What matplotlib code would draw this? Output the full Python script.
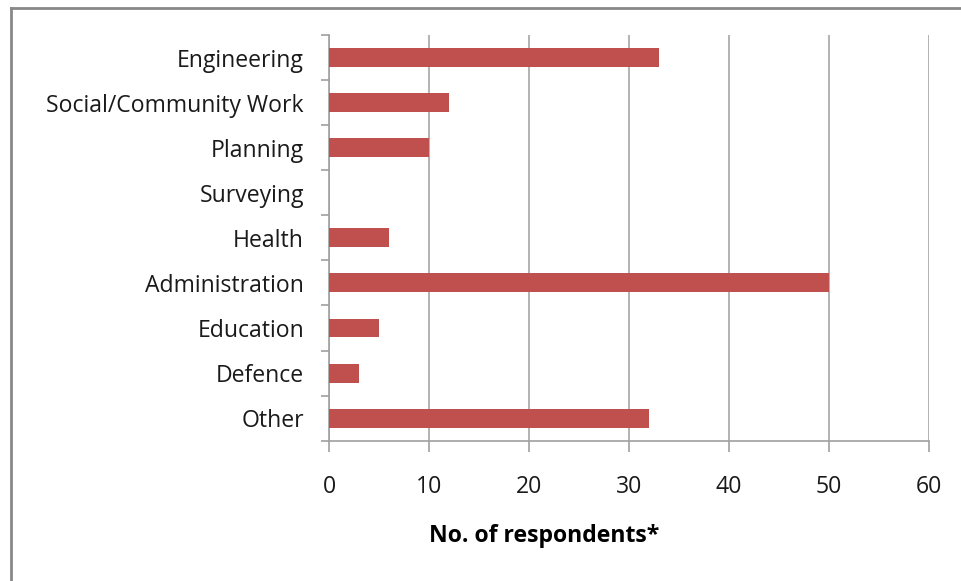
import numpy as np
import matplotlib.pyplot as plt
from matplotlib.lines import Line2D

categories = ["Engineering", "Social/Community Work", "Planning", "Surveying",
              "Health", "Administration", "Education", "Defence", "Other"]
respondents = [33, 12, 10, 0, 6, 50, 5, 3, 32]
xticks = [0, 10, 20, 30, 40, 50, 60]

plt.rcParams['font.family'] = ['Open Sans', 'DejaVu Sans']
fs = 16.6

fig = plt.figure(figsize=(9.61, 5.81), dpi=100)
ax = fig.add_axes([329 / 961, 1 - 440.7 / 581, 600 / 961, (440.7 - 35) / 581])

y = np.arange(len(categories))
ax.barh(y, respondents, height=0.42, color="#C0504D", zorder=3)
ax.set_ylim(len(categories) - 0.5, -0.5)
ax.set_xlim(0, 60)

ax.set_xticks(xticks)
ax.set_xticklabels([str(v) for v in xticks], fontsize=fs, color="#1a1a1a")
ax.set_yticks(y)
ax.set_yticklabels(categories, fontsize=fs, color="#1a1a1a")
ax.set_yticks(np.arange(len(categories) + 1) - 0.5, minor=True)
ax.tick_params(axis='y', which='major', length=0, pad=18)
ax.tick_params(axis='y', which='minor', length=6, width=1.2, color="#A0A0A0")
ax.tick_params(axis='x', length=8, width=1.2, color="#A0A0A0", pad=17)

ax.grid(axis='x', color="#A6A6A6", linewidth=1.2, zorder=0)
for s in ['top', 'right']:
    ax.spines[s].set_visible(False)
for s in ['left', 'bottom']:
    ax.spines[s].set_color("#A0A0A0")
    ax.spines[s].set_linewidth(1.2)

fig.text(544 / 961, 1 - 536 / 581, "No. of respondents*", fontsize=fs,
         fontweight='bold', ha='center', va='center', color="#000000")

# outer chart frame (left and top edges visible)
fig.add_artist(Line2D([10.5 / 961, 10.5 / 961], [0, 1 - 7.5 / 581],
                      transform=fig.transFigure, color="#888888", linewidth=2))
fig.add_artist(Line2D([10.5 / 961, 1], [1 - 7.5 / 581, 1 - 7.5 / 581],
                      transform=fig.transFigure, color="#888888", linewidth=2))

fig.savefig("out.png", dpi=100)
